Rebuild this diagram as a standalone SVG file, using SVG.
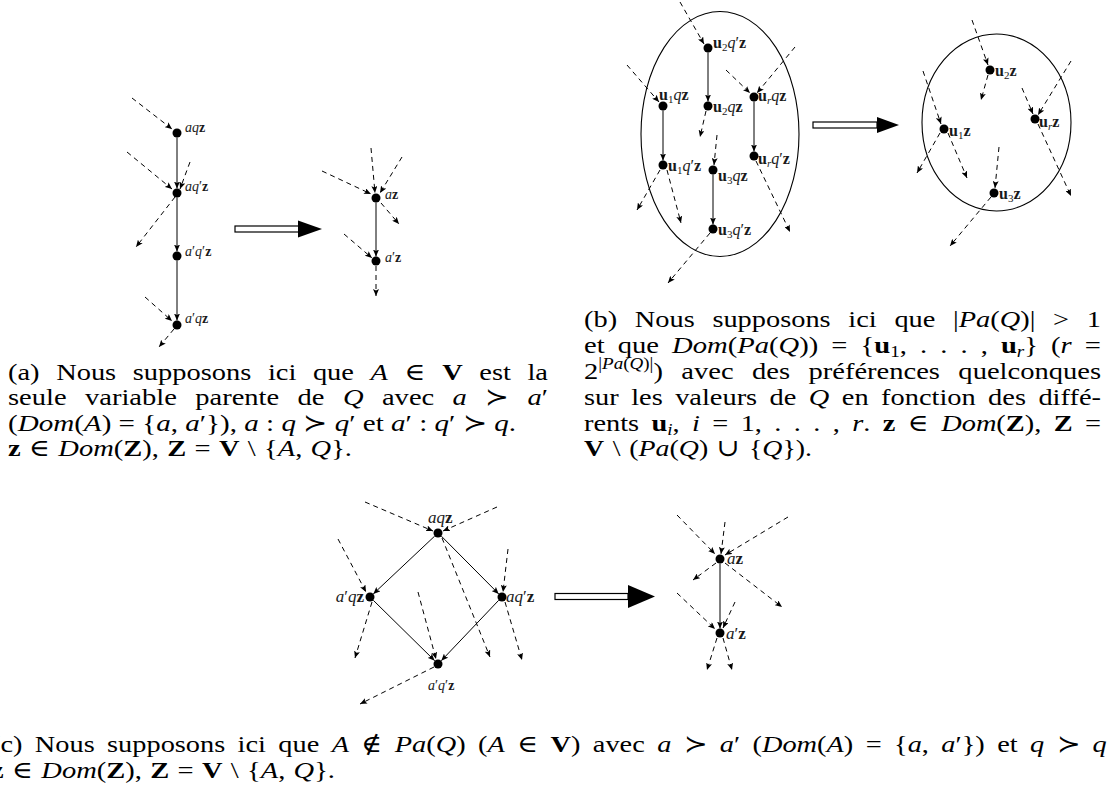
<svg xmlns="http://www.w3.org/2000/svg" width="1107" height="791" viewBox="0 0 1107 791">
<defs>
<marker id="ah" markerUnits="userSpaceOnUse" markerWidth="8" markerHeight="6" refX="7" refY="3" orient="auto"><path d="M0,0 L7,3 L0,6 L1.5,3 z" fill="#000"/></marker>
<style>
.cap{font-family:"Liberation Serif","DejaVu Serif",serif;font-size:24px;fill:#000}
.lbl{font-family:"Liberation Serif","DejaVu Serif",serif;fill:#1a1a1a}
.la{font-size:14px}
.lb{font-size:16px}
.lc{font-size:17px}
.it{font-style:italic}
.bf{font-weight:bold}
.e{stroke:#000;stroke-width:1;fill:none;marker-end:url(#ah)}
.d{stroke:#000;stroke-width:1;fill:none;stroke-dasharray:5 4;marker-end:url(#ah)}
.n{fill:#000}
.ell{fill:none;stroke:#000;stroke-width:1.1}
.sh{fill:#fff;stroke:#000;stroke-width:1.2}
.hd{fill:#000}
</style>
</defs>
<rect width="1107" height="791" fill="#fff"/>

<!-- Panel (a) nodes -->
<g id="a-aqz"><circle class="n" cx="177" cy="133" r="4.5"/><text class="lbl la" x="185" y="132"><tspan class="it">aq</tspan><tspan class="bf">z</tspan></text></g>
<g id="a-aq2z"><circle class="n" cx="177" cy="193" r="4.5"/><text class="lbl la" x="185" y="191"><tspan class="it">aq</tspan>′<tspan class="bf">z</tspan></text></g>
<g id="a-a2q2z"><circle class="n" cx="177" cy="256" r="4.5"/><text class="lbl la" x="185" y="256"><tspan class="it">a</tspan>′<tspan class="it">q</tspan>′<tspan class="bf">z</tspan></text></g>
<g id="a-a2qz"><circle class="n" cx="177" cy="325" r="4.5"/><text class="lbl la" x="185" y="323"><tspan class="it">a</tspan>′<tspan class="it">q</tspan><tspan class="bf">z</tspan></text></g>
<g id="a-az"><circle class="n" cx="376" cy="198" r="4.5"/><text class="lbl la" x="385" y="199"><tspan class="it">a</tspan><tspan class="bf">z</tspan></text></g>
<g id="a-a2z"><circle class="n" cx="376" cy="261" r="4.5"/><text class="lbl la" x="385" y="262"><tspan class="it">a</tspan>′<tspan class="bf">z</tspan></text></g>

<!-- Panel (b) nodes -->
<ellipse class="ell" cx="720" cy="134" rx="79" ry="122.5"/>
<g id="b-u2q2z"><circle class="n" cx="708" cy="48" r="4.5"/><text class="lbl lb" x="713" y="48"><tspan class="bf">u</tspan><tspan font-size="11" dy="3">2</tspan><tspan class="it" dy="-3">q</tspan>′<tspan class="bf">z</tspan></text></g>
<g id="b-u1qz"><circle class="n" cx="663" cy="106" r="4.5"/><text class="lbl lb" x="659" y="100"><tspan class="bf">u</tspan><tspan font-size="11" dy="3">1</tspan><tspan class="it" dy="-3">q</tspan><tspan class="bf">z</tspan></text></g>
<g id="b-u2qz"><circle class="n" cx="708" cy="106" r="4.5"/><text class="lbl lb" x="713" y="112"><tspan class="bf">u</tspan><tspan font-size="11" dy="3">2</tspan><tspan class="it" dy="-3">q</tspan><tspan class="bf">z</tspan></text></g>
<g id="b-urqz"><circle class="n" cx="754" cy="97" r="4.5"/><text class="lbl lb" x="758" y="101"><tspan class="bf">u</tspan><tspan class="it" font-size="11" dy="3">r</tspan><tspan class="it" dy="-3">q</tspan><tspan class="bf">z</tspan></text></g>
<g id="b-u1q2z"><circle class="n" cx="663" cy="165" r="4.5"/><text class="lbl lb" x="668" y="171"><tspan class="bf">u</tspan><tspan font-size="11" dy="3">1</tspan><tspan class="it" dy="-3">q</tspan>′<tspan class="bf">z</tspan></text></g>
<g id="b-urq2z"><circle class="n" cx="754" cy="156" r="4.5"/><text class="lbl lb" x="758" y="164"><tspan class="bf">u</tspan><tspan class="it" font-size="11" dy="3">r</tspan><tspan class="it" dy="-3">q</tspan>′<tspan class="bf">z</tspan></text></g>
<g id="b-u3qz"><circle class="n" cx="713" cy="170" r="4.5"/><text class="lbl lb" x="718" y="181"><tspan class="bf">u</tspan><tspan font-size="11" dy="3">3</tspan><tspan class="it" dy="-3">q</tspan><tspan class="bf">z</tspan></text></g>
<g id="b-u3q2z"><circle class="n" cx="713" cy="229" r="4.5"/><text class="lbl lb" x="718" y="235"><tspan class="bf">u</tspan><tspan font-size="11" dy="3">3</tspan><tspan class="it" dy="-3">q</tspan>′<tspan class="bf">z</tspan></text></g>

<ellipse class="ell" cx="996.5" cy="122.5" rx="74.5" ry="88.5"/>
<g id="b-u2z"><circle class="n" cx="990" cy="70" r="4.5"/><text class="lbl lb" x="995" y="76"><tspan class="bf">u</tspan><tspan font-size="11" dy="3">2</tspan><tspan class="bf" dy="-3">z</tspan></text></g>
<g id="b-u1z"><circle class="n" cx="944" cy="129" r="4.5"/><text class="lbl lb" x="949" y="136"><tspan class="bf">u</tspan><tspan font-size="11" dy="3">1</tspan><tspan class="bf" dy="-3">z</tspan></text></g>
<g id="b-urz"><circle class="n" cx="1035" cy="119" r="4.5"/><text class="lbl lb" x="1039" y="127"><tspan class="bf">u</tspan><tspan class="it" font-size="11" dy="3">r</tspan><tspan class="bf" dy="-3">z</tspan></text></g>
<g id="b-u3z"><circle class="n" cx="994" cy="193" r="4.5"/><text class="lbl lb" x="999" y="199"><tspan class="bf">u</tspan><tspan font-size="11" dy="3">3</tspan><tspan class="bf" dy="-3">z</tspan></text></g>

<!-- Panel (c) nodes -->
<g id="c-aqz"><circle class="n" cx="438" cy="533" r="4.5"/><text class="lbl lc" x="428" y="523"><tspan class="it">aq</tspan><tspan class="bf">z</tspan></text></g>
<g id="c-a2qz"><circle class="n" cx="370" cy="597" r="4.5"/><text class="lbl lc" x="364" y="602" text-anchor="end"><tspan class="it">a</tspan>′<tspan class="it">q</tspan><tspan class="bf">z</tspan></text></g>
<g id="c-aq2z"><circle class="n" cx="502" cy="597" r="4.5"/><text class="lbl lc" x="506" y="602"><tspan class="it">aq</tspan>′<tspan class="bf">z</tspan></text></g>
<g id="c-a2q2z"><circle class="n" cx="438" cy="664" r="4.5"/><text class="lbl la" x="428" y="690"><tspan class="it">a</tspan>′<tspan class="it">q</tspan>′<tspan class="bf">z</tspan></text></g>
<g id="c-az"><circle class="n" cx="720" cy="559" r="4.5"/><text class="lbl lc" x="727" y="564"><tspan class="it">a</tspan><tspan class="bf">z</tspan></text></g>
<g id="c-a2z"><circle class="n" cx="720" cy="633" r="4.5"/><text class="lbl lc" x="726" y="639"><tspan class="it">a</tspan>′<tspan class="bf">z</tspan></text></g>

<!-- Connectors -->
<g id="connectors">
<line class="e" x1="177" y1="137.5" x2="177" y2="188.5"/>
<line class="e" x1="177" y1="197.5" x2="177" y2="251.5"/>
<line class="e" x1="177" y1="260.5" x2="177" y2="320.5"/>
<line class="d" x1="132" y1="98" x2="172" y2="129"/>
<line class="d" x1="127" y1="152" x2="172" y2="189"/>
<line class="d" x1="190" y1="162" x2="180" y2="189"/>
<line class="d" x1="175" y1="197" x2="136" y2="247"/>
<line class="d" x1="145" y1="297" x2="172" y2="321"/>
<line class="d" x1="174" y1="329" x2="159" y2="347"/>
<line class="e" x1="376" y1="202.5" x2="376" y2="256.5"/>
<line class="d" x1="322" y1="171" x2="371" y2="194"/>
<line class="d" x1="371" y1="148" x2="375" y2="193"/>
<line class="d" x1="402" y1="157" x2="380" y2="193"/>
<line class="d" x1="381" y1="203" x2="399" y2="224"/>
<line class="d" x1="344" y1="234" x2="372" y2="258"/>
<line class="d" x1="376" y1="266" x2="376" y2="296"/>
<line class="e" x1="708" y1="52.5" x2="708" y2="101.5"/>
<line class="e" x1="663" y1="110.5" x2="663" y2="160.5"/>
<line class="e" x1="754" y1="101.5" x2="754" y2="151.5"/>
<line class="e" x1="713" y1="174.5" x2="713" y2="224.5"/>
<line class="d" x1="680" y1="2" x2="704" y2="44"/>
<line class="d" x1="627" y1="65" x2="659" y2="102"/>
<line class="d" x1="706" y1="111" x2="700" y2="137"/>
<line class="d" x1="726" y1="70" x2="750" y2="93"/>
<line class="d" x1="795" y1="47" x2="757" y2="93"/>
<line class="d" x1="717" y1="135" x2="714" y2="165"/>
<line class="d" x1="660" y1="170" x2="637" y2="210"/>
<line class="d" x1="667" y1="170" x2="681" y2="223"/>
<line class="d" x1="756" y1="161" x2="790" y2="232"/>
<line class="d" x1="710" y1="233" x2="668" y2="283"/>
<line class="d" x1="972" y1="20" x2="988" y2="65"/>
<line class="d" x1="988" y1="75" x2="981" y2="100"/>
<line class="d" x1="923" y1="71" x2="941" y2="124"/>
<line class="d" x1="940" y1="133" x2="917" y2="173"/>
<line class="d" x1="948" y1="133" x2="967" y2="178"/>
<line class="d" x1="1022" y1="88" x2="1033" y2="114"/>
<line class="d" x1="1071" y1="61" x2="1038" y2="115"/>
<line class="d" x1="1038" y1="124" x2="1071" y2="196"/>
<line class="d" x1="999" y1="147" x2="995" y2="188"/>
<line class="d" x1="991" y1="197" x2="950" y2="246"/>
<line class="e" x1="434.7" y1="536.1" x2="373.3" y2="593.9"/>
<line class="e" x1="441.3" y1="536.1" x2="498.7" y2="593.9"/>
<line class="e" x1="373.3" y1="600.3" x2="434.7" y2="660.7"/>
<line class="e" x1="498.7" y1="600.3" x2="441.3" y2="660.7"/>
<line class="d" x1="365" y1="502" x2="433" y2="531"/>
<line class="d" x1="497" y1="507" x2="443" y2="531"/>
<line class="d" x1="442" y1="538" x2="490" y2="657"/>
<line class="d" x1="338" y1="539" x2="366" y2="592"/>
<line class="d" x1="372" y1="602" x2="355" y2="658"/>
<line class="d" x1="508" y1="549" x2="503" y2="592"/>
<line class="d" x1="505" y1="602" x2="522" y2="660"/>
<line class="d" x1="418" y1="592" x2="436" y2="659"/>
<line class="d" x1="434" y1="667" x2="360" y2="704"/>
<line class="e" x1="720" y1="563.5" x2="720" y2="628.5"/>
<line class="d" x1="677" y1="515" x2="715" y2="554"/>
<line class="d" x1="725" y1="522" x2="721" y2="554"/>
<line class="d" x1="788" y1="517" x2="725" y2="555"/>
<line class="d" x1="716" y1="563" x2="693" y2="580"/>
<line class="d" x1="725" y1="563" x2="782" y2="607"/>
<line class="d" x1="677" y1="593" x2="715" y2="629"/>
<line class="d" x1="735" y1="602" x2="723" y2="628"/>
<line class="d" x1="717" y1="638" x2="707" y2="670"/>
<line class="d" x1="723" y1="638" x2="732" y2="670"/>
</g>

<!-- Double arrows -->
<g id="implies">
<rect class="sh" x="235" y="226" width="64" height="6"/>
<path class="hd" d="M298,220.5 L322,229 L298,237.5 z"/>
<rect class="sh" x="813" y="122" width="64" height="6"/>
<path class="hd" d="M877,117 L899,125 L877,133 z"/>
<rect class="sh" x="555" y="593.5" width="73" height="6"/>
<path class="hd" d="M628,585 L655,596.5 L628,608 z"/>
</g>

<!-- Captions -->
<g id="captions">
<text class="cap" x="8" y="380" textLength="540" lengthAdjust="spacingAndGlyphs" style="word-spacing:8px">(a) Nous supposons ici que <tspan class="it">A</tspan> ∈ <tspan class="bf">V</tspan> est la</text>
<text class="cap" x="8" y="405" textLength="540" lengthAdjust="spacingAndGlyphs" style="word-spacing:9.5px">seule variable parente de <tspan class="it">Q</tspan> avec <tspan class="it">a</tspan> ≻ <tspan class="it">a</tspan>′</text>
<text class="cap" x="8" y="431" textLength="508" lengthAdjust="spacingAndGlyphs" style="word-spacing:0px">(<tspan class="it">Dom</tspan>(<tspan class="it">A</tspan>) = {<tspan class="it">a</tspan>, <tspan class="it">a</tspan>′}), <tspan class="it">a</tspan> : <tspan class="it">q</tspan> ≻ <tspan class="it">q</tspan>′ et <tspan class="it">a</tspan>′ : <tspan class="it">q</tspan>′ ≻ <tspan class="it">q</tspan>.</text>
<text class="cap" x="8" y="456" textLength="344" lengthAdjust="spacingAndGlyphs" style="word-spacing:1px"><tspan class="bf">z</tspan> ∈ <tspan class="it">Dom</tspan>(<tspan class="bf">Z</tspan>), <tspan class="bf">Z</tspan> = <tspan class="bf">V</tspan> \ {<tspan class="it">A</tspan>, <tspan class="it">Q</tspan>}.</text>

<text class="cap" x="584" y="327" textLength="517" lengthAdjust="spacingAndGlyphs" style="word-spacing:9px">(b) Nous supposons ici que |<tspan class="it">Pa</tspan>(<tspan class="it">Q</tspan>)| &gt; 1</text>
<text class="cap" x="584" y="353" textLength="517" lengthAdjust="spacingAndGlyphs" style="word-spacing:5px">et que <tspan class="it">Dom</tspan>(<tspan class="it">Pa</tspan>(<tspan class="it">Q</tspan>)) = {<tspan class="bf">u</tspan><tspan font-size="16" dy="4">1</tspan><tspan dy="-4">, . . . , </tspan><tspan class="bf">u</tspan><tspan class="it" font-size="16" dy="4">r</tspan><tspan dy="-4">} (</tspan><tspan class="it">r</tspan> =</text>
<text class="cap" x="584" y="379" textLength="517" lengthAdjust="spacingAndGlyphs" style="word-spacing:9.5px">2<tspan font-size="16" dy="-10">|</tspan><tspan class="it" font-size="16">Pa</tspan><tspan font-size="16">(</tspan><tspan class="it" font-size="16">Q</tspan><tspan font-size="16">)|</tspan><tspan dy="10">) avec des préférences quelconques</tspan></text>
<text class="cap" x="584" y="405" textLength="517" lengthAdjust="spacingAndGlyphs" style="word-spacing:4.5px">sur les valeurs de <tspan class="it">Q</tspan> en fonction des diffé-</text>
<text class="cap" x="584" y="431" textLength="517" lengthAdjust="spacingAndGlyphs" style="word-spacing:4.5px">rents <tspan class="bf">u</tspan><tspan class="it" font-size="16" dy="4">i</tspan><tspan dy="-4">, </tspan><tspan class="it">i</tspan> = 1, . . . , <tspan class="it">r</tspan>. <tspan class="bf">z</tspan> ∈ <tspan class="it">Dom</tspan>(<tspan class="bf">Z</tspan>), <tspan class="bf">Z</tspan> =</text>
<text class="cap" x="584" y="456" textLength="228" lengthAdjust="spacingAndGlyphs" style="word-spacing:1.5px"><tspan class="bf">V</tspan> \ (<tspan class="it">Pa</tspan>(<tspan class="it">Q</tspan>) ∪ {<tspan class="it">Q</tspan>}).</text>

<text class="cap" x="-9" y="752" textLength="1122" lengthAdjust="spacingAndGlyphs" style="word-spacing:4.5px">(c) Nous supposons ici que <tspan class="it">A</tspan> ∉ <tspan class="it">Pa</tspan>(<tspan class="it">Q</tspan>) (<tspan class="it">A</tspan> ∈ <tspan class="bf">V</tspan>) avec <tspan class="it">a</tspan> ≻ <tspan class="it">a</tspan>′ (<tspan class="it">Dom</tspan>(<tspan class="it">A</tspan>) = {<tspan class="it">a</tspan>, <tspan class="it">a</tspan>′}) et <tspan class="it">q</tspan> ≻ <tspan class="it">q</tspan>′</text>
<text class="cap" x="-9" y="778" textLength="344" lengthAdjust="spacingAndGlyphs" style="word-spacing:1px"><tspan class="bf">z</tspan> ∈ <tspan class="it">Dom</tspan>(<tspan class="bf">Z</tspan>), <tspan class="bf">Z</tspan> = <tspan class="bf">V</tspan> \ {<tspan class="it">A</tspan>, <tspan class="it">Q</tspan>}.</text>
</g>
</svg>
